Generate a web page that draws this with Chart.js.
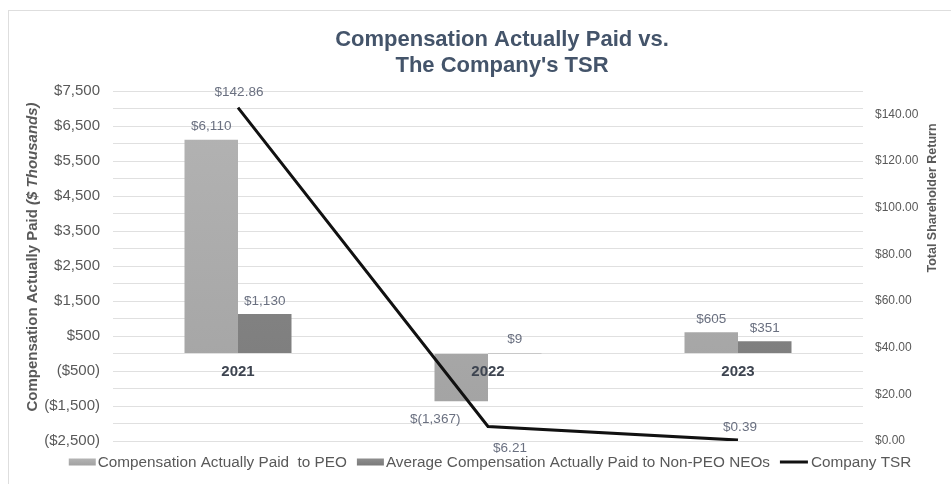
<!DOCTYPE html>
<html><head><meta charset="utf-8">
<script src="https://cdn.jsdelivr.net/npm/chart.js@4.4.0/dist/chart.umd.min.js"></script>
<style>
html,body{margin:0;padding:0;background:#fff;}
#wrap{position:relative;width:951px;height:484px;overflow:hidden;background:#fff;}
#frame{position:absolute;left:8px;top:10px;width:960px;height:500px;border-top:1px solid #dedede;border-left:1px solid #dedede;}
canvas{position:absolute;left:0;top:0;}
</style></head>
<body><div id="wrap"><div id="frame"></div><canvas id="c" width="951" height="484"></canvas></div>
<script>
// ---- data ----
const years = ['2021', '2022', '2023'];
const capPEO = [6110, -1367, 605];      // $ thousands
const capNEO = [1130, 9, 351];          // $ thousands
const tsr = [142.86, 6.21, 0.39];       // $
const leftTicks = { min: -2500, max: 7500, step: 500, labelStep: 1000 };
const rightTicks = { min: 0, max: 150, step: 20 };
const seriesNames = ['Compensation Actually Paid  to PEO', 'Average Compensation Actually Paid to Non-PEO NEOs', 'Company TSR'];
const titleLines = ['Compensation Actually Paid vs.', "The Company's TSR"];

// ---- formatting ----
const num = v => Math.abs(v).toLocaleString('en-US');
const fmtBar = v => v < 0 ? '$(' + num(v) + ')' : '$' + num(v);
const fmtTick = v => v < 0 ? '($' + num(v) + ')' : '$' + num(v);
const fmtTSR = v => '$' + v.toFixed(2);

const FONT = '"Liberation Sans", Arial, sans-serif';
const TEXT = '#595959';
const LABEL = '#6a7080';
const PEO_COLORS = ['#b4b4b4', '#a2a2a2'];
const NEO_COLORS = ['#8e8e8e', '#7a7a7a'];

// label offsets (style): per dataset, per point [dx, dy] relative to anchor
const labelOffsets = {
  0: [[0, -13], [-26, 18], [0, -13]],
  1: [[0, -13], [0, -14], [0, -13]],
  2: [[1, -15], [22, 22], [2, -13]]
};

function barGradient(top, bottom) {
  return (context) => {
    const chart = context.chart;
    const area = chart.chartArea;
    if (!area) return top;
    const g = chart.ctx.createLinearGradient(0, area.top, 0, area.bottom);
    g.addColorStop(0, top);
    g.addColorStop(1, bottom);
    return g;
  };
}

const labelsPlugin = {
  id: 'valueLabels',
  afterDatasetsDraw(chart) {
    const ctx = chart.ctx;
    ctx.save();
    ctx.font = '13.5px ' + FONT;
    ctx.fillStyle = LABEL;
    ctx.textAlign = 'center';
    ctx.textBaseline = 'middle';
    chart.data.datasets.forEach((ds, di) => {
      const meta = chart.getDatasetMeta(di);
      meta.data.forEach((el, i) => {
        const v = ds.data[i];
        const off = labelOffsets[di][i];
        let x = el.x + off[0], y;
        if (di === 2) {
          y = el.y + off[1];
        } else {
          const top = Math.min(el.y, el.base), bot = Math.max(el.y, el.base);
          y = (v < 0 ? bot : top) + off[1];
        }
        ctx.fillText(di === 2 ? fmtTSR(v) : fmtBar(v), x, y);
      });
    });
    ctx.restore();
  }
};

const decorPlugin = {
  id: 'decor',
  afterDraw(chart) {
    const ctx = chart.ctx;
    ctx.save();
    // title
    ctx.fillStyle = '#44546a';
    ctx.font = 'bold 22px ' + FONT;
    ctx.textAlign = 'center';
    ctx.textBaseline = 'middle';
    ctx.fillText(titleLines[0], 502, 40);
    ctx.fillText(titleLines[1], 502, 66);
    // left axis title (bold + bold italic)
    ctx.fillStyle = TEXT;
    ctx.translate(33, 257);
    ctx.rotate(-Math.PI / 2);
    const p1 = 'Compensation Actually Paid ';
    const p2 = '($ Thousands)';
    ctx.font = 'bold 15px ' + FONT;
    const w1 = ctx.measureText(p1).width;
    ctx.font = 'italic bold 15px ' + FONT;
    const w2 = ctx.measureText(p2).width;
    const start = -(w1 + w2) / 2;
    ctx.textAlign = 'left';
    ctx.textBaseline = 'middle';
    ctx.font = 'bold 15px ' + FONT;
    ctx.fillText(p1, start, 0);
    ctx.font = 'italic bold 15px ' + FONT;
    ctx.fillText(p2, start + w1, 0);
    ctx.restore();
    // right axis title
    ctx.save();
    ctx.fillStyle = TEXT;
    ctx.font = 'bold 12.5px ' + FONT;
    ctx.textAlign = 'center';
    ctx.textBaseline = 'middle';
    ctx.translate(933, 198);
    ctx.rotate(-Math.PI / 2);
    ctx.fillText('Total Shareholder Return', 0, 0);
    ctx.restore();

    // legend
    ctx.save();
    ctx.font = '15.3px ' + FONT;
    ctx.textBaseline = 'middle';
    ctx.textAlign = 'left';
    const items = chart.data.datasets.map((ds, i) => ({
      text: ds.label,
      kind: ds.type === 'line' ? 'line' : 'rect',
      colors: i === 0 ? PEO_COLORS : i === 1 ? NEO_COLORS : null,
      swatch: ds.type === 'line' ? 28 : 27,
      gap: ds.type === 'line' ? 3 : 2
    }));
    const gapItem = 10;
    let total = 0;
    items.forEach((it, i) => {
      it.tw = ctx.measureText(it.text).width;
      total += it.swatch + it.gap + it.tw + (i < items.length - 1 ? gapItem : 0);
    });
    let x = 490 - total / 2;
    const y = 462;
    items.forEach(it => {
      if (it.kind === 'rect') {
        const g = ctx.createLinearGradient(0, y - 3.5, 0, y + 3.5);
        g.addColorStop(0, it.colors[0]);
        g.addColorStop(1, it.colors[1]);
        ctx.fillStyle = g;
        ctx.fillRect(x, y - 3.5, it.swatch, 7);
      } else {
        ctx.strokeStyle = '#111111';
        ctx.lineWidth = 3;
        ctx.beginPath();
        ctx.moveTo(x, y);
        ctx.lineTo(x + it.swatch, y);
        ctx.stroke();
      }
      x += it.swatch + it.gap;
      ctx.fillStyle = TEXT;
      ctx.fillText(it.text, x, y + 1);
      x += it.tw + gapItem;
    });
    ctx.restore();
  }
};

new Chart(document.getElementById('c'), {
  type: 'bar',
  data: {
    labels: years,
    datasets: [
      { type: 'bar', label: seriesNames[0], data: capPEO, yAxisID: 'y', backgroundColor: barGradient(PEO_COLORS[0], PEO_COLORS[1]), borderWidth: 0, order: 2 },
      { type: 'bar', label: seriesNames[1], data: capNEO, yAxisID: 'y', backgroundColor: barGradient(NEO_COLORS[0], NEO_COLORS[1]), borderWidth: 0, order: 2 },
      { type: 'line', label: seriesNames[2], data: tsr, yAxisID: 'y1', borderColor: '#111111', backgroundColor: '#111111', borderWidth: 3, pointRadius: 0, tension: 0, order: 1 }
    ]
  },
  options: {
    responsive: false,
    animation: false,
    layout: { padding: { top: 91, bottom: 43, left: 0, right: 0 } },
    datasets: { bar: { categoryPercentage: 0.428, barPercentage: 1 } },
    scales: {
      x: {
        type: 'category',
        position: { y: 0 },
        offset: true,
        z: 1,
        grid: { display: false, drawTicks: false },
        border: { display: false },
        ticks: { z: 1, color: '#3d4450', font: { family: FONT, size: 15, weight: 'bold' }, padding: 9 }
      },
      y: {
        position: 'left',
        min: leftTicks.min, max: leftTicks.max,
        afterFit: s => { s.width = 113; },
        grid: { color: '#e0e0e0', drawTicks: false, lineWidth: 1 },
        border: { display: false },
        ticks: {
          stepSize: leftTicks.step, autoSkip: false, padding: 13, color: TEXT,
          font: { family: FONT, size: 15 },
          callback: v => ((v - leftTicks.min) % leftTicks.labelStep === 0) ? fmtTick(v) : ''
        }
      },
      y1: {
        position: 'right',
        min: rightTicks.min, max: rightTicks.max,
        afterFit: s => { s.width = 88; },
        afterBuildTicks: s => { s.ticks = s.ticks.filter(t => t.value % rightTicks.step === 0); },
        grid: { display: false, drawTicks: false },
        border: { display: false },
        ticks: {
          stepSize: rightTicks.step, autoSkip: false, padding: 12, color: TEXT,
          font: { family: FONT, size: 12 },
          callback: v => '$' + v.toFixed(2)
        }
      }
    },
    plugins: {
      title: { display: false },
      tooltip: { enabled: false },
      legend: { display: false }
    }
  },
  plugins: [labelsPlugin, decorPlugin]
});
</script>
</body></html>
